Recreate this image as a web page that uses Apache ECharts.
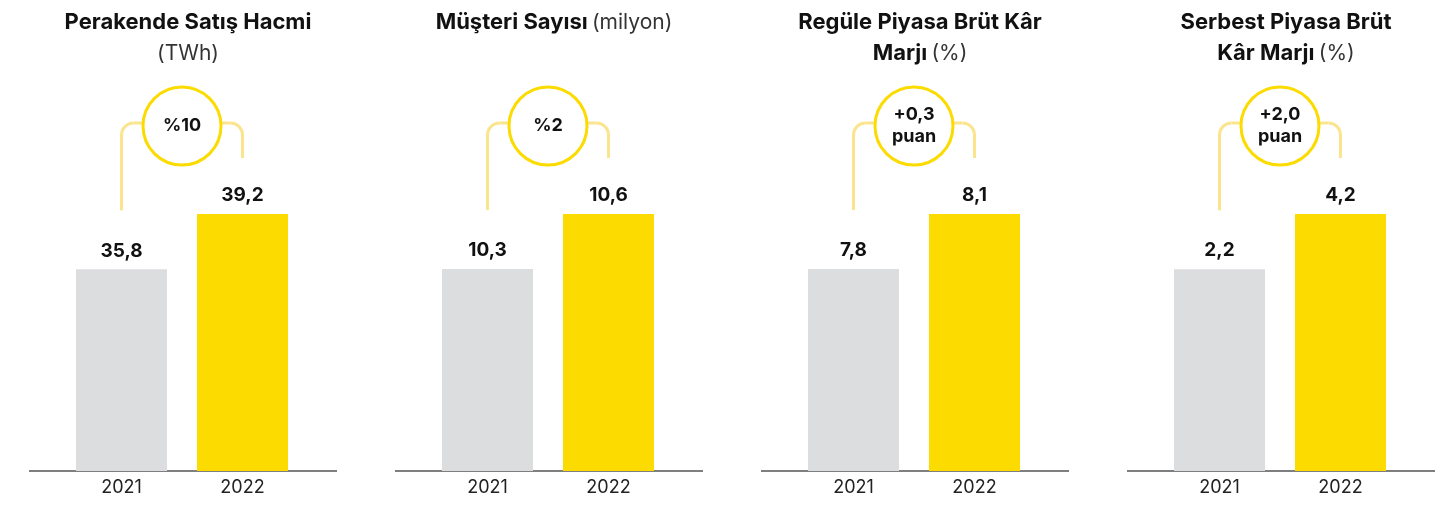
<!DOCTYPE html>
<html>
<head>
<meta charset="utf-8">
<script src="https://cdn.jsdelivr.net/npm/echarts@6/dist/echarts.min.js"></script>
<style>
  html, body { margin: 0; padding: 0; background: #fff; }
  #chart { width: 1452px; height: 505px; }
</style>
</head>
<body>
<div id="chart"></div>
<script>
const years = ['2021', '2022'];
const retailVolume = [35.8, 39.2];      // TWh
const customerCount = [10.3, 10.6];     // milyon
const regulatedMargin = [7.8, 8.1];     // %
const freeMargin = [2.2, 4.2];          // %
const changeLabels = ['%10', '%2', '+0,3\npuan', '+2,0\npuan'];
const titleTexts = [
  '{b|Perakende Satış Hacmi}\n{r|(TWh)}',
  '{b|Müşteri Sayısı} {r|(milyon)}',
  '{b|Regüle Piyasa Brüt Kâr}\n{b|Marjı} {r|(%)}',
  '{b|Serbest Piyasa Brüt}\n{b|Kâr Marjı} {r|(%)}'
];
const panelValues = [retailVolume, customerCount, regulatedMargin, freeMargin];

// axis floors picked so the bars keep the report's (non-zero based) heights
const AXIS_MIN = [23.4, 9.2, 6.7, -5.1];

const FONT = 'Inter, "Noto Sans", sans-serif';
const GRAY = '#dcdddf';
const YELLOW = '#fcdb00';
const PALE = '#fbe48e';
const PANEL_LEFT = 29, PANEL_STEP = 366, PANEL_W = 308;
const GRID_INSET = 32, GRID_W = 242, GRID_TOP = 214, GRID_BOTTOM = 34;
const HEIGHT = 505;

function fmt(v) {
  return v.toFixed(1).replace('.', ',');
}

const chart = echarts.init(document.getElementById('chart'), null, { renderer: 'canvas' });

const option = {
  animation: false,
  title: titleTexts.map((t, i) => ({
    text: t,
    left: PANEL_LEFT + i * PANEL_STEP + PANEL_W / 2,
    top: 2,
    textAlign: 'center',
    textStyle: {
      fontFamily: FONT,
      lineHeight: 31,
      rich: {
        b: { fontFamily: FONT, fontWeight: 'bold', fontSize: 22, color: '#111', lineHeight: 31 },
        r: { fontFamily: FONT, fontWeight: 'normal', fontSize: 21, color: '#333', lineHeight: 31 }
      }
    }
  })),
  grid: panelValues.map((_, i) => ({
    left: PANEL_LEFT + i * PANEL_STEP + GRID_INSET,
    width: GRID_W,
    top: GRID_TOP,
    bottom: GRID_BOTTOM,
    containLabel: false
  })),
  xAxis: panelValues.map((_, i) => ({
    type: 'category',
    gridIndex: i,
    data: years,
    axisLine: { show: false },
    axisTick: { show: false },
    axisLabel: { fontFamily: FONT, fontSize: 18, color: '#222', margin: 8 }
  })),
  yAxis: panelValues.map((vals, i) => ({
    type: 'value',
    gridIndex: i,
    min: AXIS_MIN[i],
    max: vals[1],
    startValue: AXIS_MIN[i],
    show: false,
    splitLine: { show: false }
  })),
  series: panelValues.map((vals, i) => ({
    type: 'bar',
    xAxisIndex: i,
    yAxisIndex: i,
    barWidth: 91,
    silent: true,
    data: vals.map((v, j) => ({ value: v, itemStyle: { color: j === 0 ? GRAY : YELLOW } })),
    label: {
      show: true,
      position: 'top',
      distance: 9,
      formatter: (p) => fmt(p.value),
      fontFamily: FONT,
      fontWeight: 'bold',
      fontSize: 19,
      color: '#111'
    }
  }))
};

chart.setOption(option);

// decorations: baseline, bracket and change bubble per panel
const graphics = [];
const R = 12;
panelValues.forEach((vals, i) => {
  const left = PANEL_LEFT + i * PANEL_STEP;
  const p1 = chart.convertToPixel({ gridIndex: i }, [0, vals[0]]);
  const p2 = chart.convertToPixel({ gridIndex: i }, [1, vals[1]]);
  const baseY = HEIGHT - GRID_BOTTOM;
  const cx = (p1[0] + p2[0]) / 2;
  const cy = p2[1] - 88;
  const r = 39;
  const by = cy - 3;

  graphics.push({
    type: 'line',
    shape: { x1: left, y1: baseY, x2: left + PANEL_W, y2: baseY },
    style: { stroke: '#555', lineWidth: 1.5 }
  });

  const lineStyle = { stroke: PALE, lineWidth: 3, fill: null };
  // left arm
  graphics.push({ type: 'line', shape: { x1: p1[0], y1: p1[1] - 59, x2: p1[0], y2: by + R }, style: lineStyle });
  graphics.push({
    type: 'arc',
    shape: { cx: p1[0] + R, cy: by + R, r: R, startAngle: Math.PI, endAngle: Math.PI * 1.5, clockwise: true },
    style: lineStyle
  });
  graphics.push({ type: 'line', shape: { x1: p1[0] + R, y1: by, x2: cx - r + 2, y2: by }, style: lineStyle });
  // right arm
  graphics.push({ type: 'line', shape: { x1: cx + r - 2, y1: by, x2: p2[0] - R, y2: by }, style: lineStyle });
  graphics.push({
    type: 'arc',
    shape: { cx: p2[0] - R, cy: by + R, r: R, startAngle: -Math.PI / 2, endAngle: 0, clockwise: true },
    style: lineStyle
  });
  graphics.push({ type: 'line', shape: { x1: p2[0], y1: by + R, x2: p2[0], y2: p2[1] - 56 }, style: lineStyle });

  graphics.push({
    type: 'circle',
    shape: { cx, cy, r },
    style: { fill: '#fff', stroke: YELLOW, lineWidth: 3 },
    z: 10
  });
  graphics.push({
    type: 'text',
    z: 11,
    style: {
      text: changeLabels[i],
      x: cx,
      y: cy,
      align: 'center',
      verticalAlign: 'middle',
      font: 'bold 18px ' + FONT,
      lineHeight: 22,
      fill: '#111'
    }
  });
});

chart.setOption({ graphic: { elements: graphics } });
</script>
</body>
</html>
